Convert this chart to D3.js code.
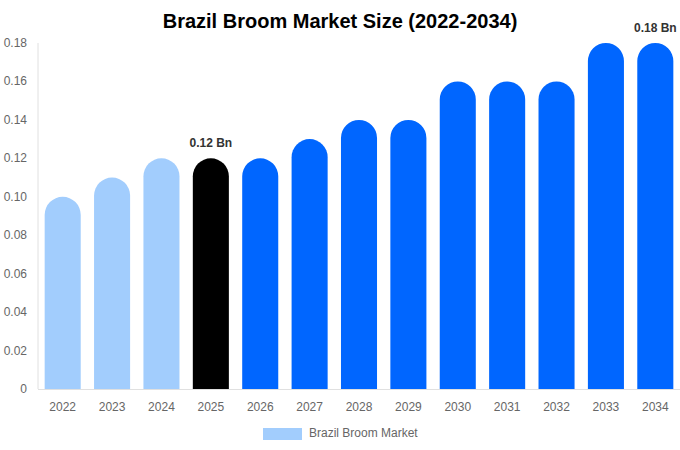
<!DOCTYPE html>
<html><head><meta charset="utf-8">
<script src="https://cdn.jsdelivr.net/npm/d3@7/dist/d3.min.js"></script>
<style>body{margin:0;background:#fff;font-family:"Liberation Sans",Arial,sans-serif;}</style>
</head><body><svg id="c" width="680" height="450"></svg>
<script>
const years = ["2022","2023","2024","2025","2026","2027","2028","2029","2030","2031","2032","2033","2034"];
const values = [0.10,0.11,0.12,0.12,0.12,0.13,0.14,0.14,0.16,0.16,0.16,0.18,0.18];
const colors = ["#a2cdfd","#a2cdfd","#a2cdfd","#000000","#0066ff","#0066ff","#0066ff","#0066ff","#0066ff","#0066ff","#0066ff","#0066ff","#0066ff"];
const yTicks = [0,0.02,0.04,0.06,0.08,0.10,0.12,0.14,0.16,0.18];
const labeled = {"2025":"0.12 Bn","2034":"0.18 Bn"};

const svg = d3.select("#c");
const m = {l:38, r:680, t:43, b:389};
const x = d3.scaleBand().domain(years).range([m.l, m.r]).paddingInner(0.27).paddingOuter(0.135);
const y = d3.scaleLinear().domain([0,0.18]).range([m.b, m.t]);

svg.append("text").attr("x",340).attr("y",28).attr("text-anchor","middle")
  .attr("font-size",20).attr("font-weight","bold").attr("fill","#000").text("Brazil Broom Market Size (2022-2034)");

// axes
svg.append("line").attr("x1",m.l).attr("x2",m.l).attr("y1",m.t).attr("y2",m.b).attr("stroke","#e0e0e0");
svg.append("line").attr("x1",m.l).attr("x2",m.r).attr("y1",m.b+0.5).attr("y2",m.b+0.5).attr("stroke","#e0e0e0");

svg.selectAll(".yt").data(yTicks).enter().append("text")
  .attr("x",27).attr("y",d=>y(d)+4).attr("text-anchor","end").attr("font-size",12).attr("fill","#666")
  .text(d=>d===0?"0":d.toFixed(2));

svg.selectAll(".xt").data(years).enter().append("text")
  .attr("x",d=>x(d)+x.bandwidth()/2).attr("y",411).attr("text-anchor","middle").attr("font-size",12).attr("fill","#666")
  .text(d=>d);

const bw = x.bandwidth(), r = bw/2;
svg.selectAll(".bar").data(years).enter().append("path")
  .attr("fill",(d,i)=>colors[i])
  .attr("d",(d,i)=>{
    const x0 = x(d), top = y(values[i]), bot = y(0);
    return `M${x0},${bot}L${x0},${top+r}A${r},${r} 0 0 1 ${x0+bw},${top+r}L${x0+bw},${bot}Z`;
  });

svg.selectAll(".lbl").data(years.filter(d=>labeled[d])).enter().append("text")
  .attr("x",d=>x(d)+bw/2).attr("y",d=>y(values[years.indexOf(d)])-11)
  .attr("text-anchor","middle").attr("font-size",12).attr("font-weight","bold").attr("fill","#333")
  .text(d=>labeled[d]);

svg.append("rect").attr("x",263).attr("y",428).attr("width",39).attr("height",12).attr("fill","#a2cdfd");
svg.append("text").attr("x",309).attr("y",437).attr("font-size",12).attr("fill","#666").text("Brazil Broom Market");
</script></body></html>
